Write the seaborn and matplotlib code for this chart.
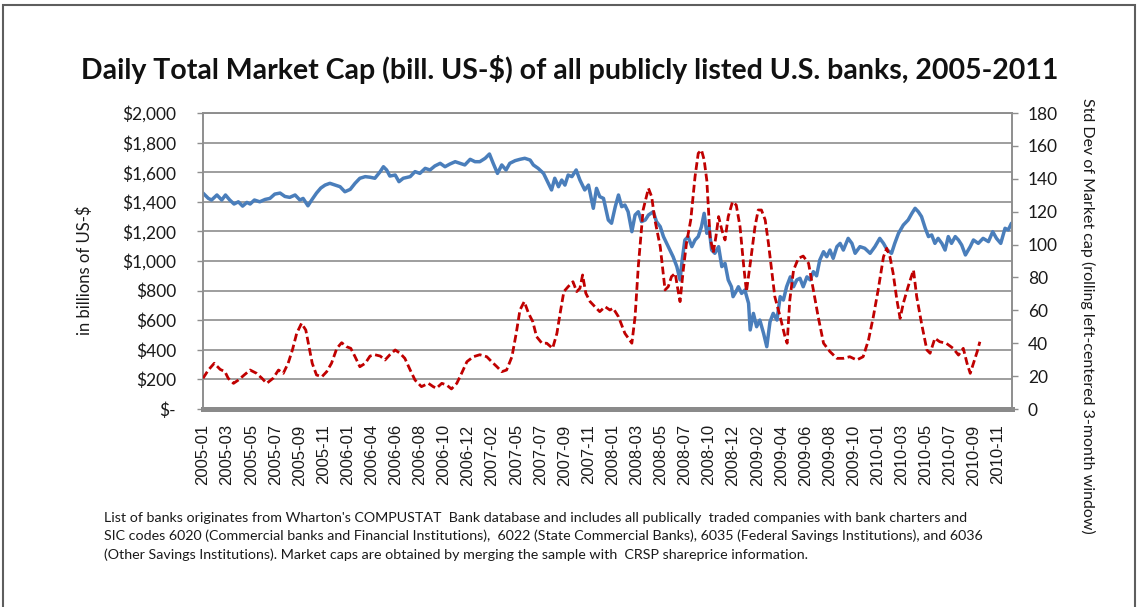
import matplotlib
matplotlib.use("Agg")
import matplotlib.pyplot as plt
from matplotlib.patches import Rectangle
import seaborn as sns

# Trading-day index (0 = first trading day of 2005) and total market cap in bill. US-$
cap_day = [
    0, 10, 16, 26, 35, 42, 50, 58, 66, 74,
    82, 88, 96, 106, 116, 125, 134, 144, 153, 162,
    172, 181, 187, 196, 203, 212, 220, 228, 237, 247,
    256, 265, 275, 284, 293, 303, 312, 321, 331, 337,
    343, 349, 359, 366, 374, 387, 396, 405, 415, 424,
    433, 443, 452, 461, 471, 480, 489, 499, 508, 517,
    527, 535, 542, 550, 558, 566, 573, 583, 592, 601,
    611, 617, 626, 636, 642, 651, 657, 664, 670, 676,
    682, 689, 697, 704, 713, 720, 729, 735, 741, 748,
    757, 763, 770, 776, 782, 788, 794, 801, 807, 813,
    819, 826, 832, 841, 847, 854, 860, 869, 878, 885,
    891, 895, 900, 906, 913, 919, 925, 931, 936, 941,
    945, 950, 956, 963, 969, 975, 981, 987, 990, 995,
    1000, 1006, 1012, 1019, 1022, 1028, 1034, 1040, 1047, 1053,
    1059, 1065, 1072, 1078, 1084, 1090, 1097, 1103, 1109, 1115,
    1121, 1128, 1134, 1140, 1146, 1152, 1159, 1165, 1171, 1177,
    1184, 1190, 1196, 1205, 1212, 1218, 1227, 1236, 1246, 1255,
    1264, 1271, 1278, 1286, 1292, 1299, 1308, 1317, 1324, 1330,
    1336, 1342, 1349, 1355, 1361, 1367, 1373, 1380, 1386, 1392,
    1398, 1405, 1411, 1417, 1424, 1433, 1439, 1448, 1457, 1467,
    1475, 1482, 1490, 1498, 1504, 1510,
]
cap_bn = [
    1459, 1423, 1412, 1446, 1412, 1446, 1412, 1385, 1400, 1371,
    1396, 1385, 1412, 1400, 1416, 1423, 1452, 1459, 1436, 1430,
    1446, 1412, 1423, 1373, 1412, 1459, 1493, 1513, 1525, 1513,
    1502, 1468, 1484, 1525, 1559, 1570, 1566, 1559, 1604, 1637,
    1615, 1574, 1581, 1536, 1559, 1570, 1604, 1592, 1626, 1615,
    1642, 1660, 1637, 1655, 1671, 1660, 1649, 1687, 1671, 1671,
    1694, 1723, 1660, 1592, 1649, 1615, 1660, 1678, 1687, 1694,
    1682, 1649, 1626, 1592, 1547, 1480, 1559, 1502, 1547, 1513,
    1581, 1570, 1615, 1547, 1480, 1513, 1356, 1491, 1435, 1423,
    1277, 1255, 1367, 1446, 1367, 1378, 1333, 1198, 1311, 1333,
    1266, 1277, 1311, 1333, 1266, 1232, 1165, 1097, 1029, 962,
    872, 1007, 1142, 1165, 1097, 1142, 1165, 1232, 1322, 1187,
    1232, 1074, 1052, 1097, 962, 984, 872, 826, 759, 790,
    826, 781, 804, 714, 534, 646, 556, 601, 511, 421,
    589, 646, 601, 759, 736, 826, 893, 826, 872, 883,
    826, 893, 872, 928, 900, 1007, 1063, 1029, 1074, 1018,
    1097, 1119, 1074, 1153, 1119, 1052, 1097, 1086, 1052, 1097,
    1153, 1119, 1074, 1052, 1119, 1187, 1243, 1277, 1322, 1356,
    1333, 1300, 1221, 1165, 1176, 1119, 1153, 1119, 1074, 1165,
    1119, 1165, 1142, 1108, 1041, 1097, 1142, 1119, 1153, 1131,
    1198, 1153, 1119, 1221, 1210, 1255,
]

# Std dev of market cap, rolling left-centered 3-month window
sd_day = [
    0, 10, 21, 32, 41, 47, 57, 66, 77, 88,
    100, 110, 119, 131, 141, 150, 159, 167, 175, 184,
    192, 198, 204, 212, 222, 231, 240, 250, 259, 268,
    276, 284, 293, 303, 312, 321, 331, 340, 349, 359,
    368, 377, 387, 396, 408, 421, 430, 436, 446, 455,
    464, 474, 483, 493, 505, 517, 530, 539, 549, 558,
    567, 577, 585, 592, 600, 608, 616, 623, 633, 642,
    653, 661, 667, 674, 682, 691, 698, 704, 709, 715,
    723, 732, 741, 751, 760, 766, 776, 788, 801, 807,
    813, 822, 832, 838, 844, 854, 863, 869, 875, 882,
    886, 891, 897, 903, 911, 919, 925, 931, 936, 941,
    947, 953, 958, 963, 969, 975, 981, 989, 996, 1003,
    1010, 1015, 1023, 1031, 1037, 1043, 1050, 1056, 1062, 1068,
    1078, 1087, 1091, 1096, 1103, 1112, 1121, 1131, 1140, 1149,
    1159, 1171, 1184, 1196, 1208, 1221, 1233, 1243, 1252, 1261,
    1271, 1277, 1283, 1289, 1296, 1302, 1308, 1317, 1327, 1333,
    1342, 1352, 1358, 1367, 1376, 1388, 1401, 1411, 1420, 1427,
    1433, 1439, 1446, 1451,
]
sd_val = [
    18.7, 23.7, 27.8, 24.1, 22.7, 18.7, 15.6, 17.6, 20.7, 23.7,
    21.7, 18.7, 15.6, 18.7, 23.7, 21.7, 27.8, 35.9, 46.0, 52.1,
    48.0, 37.9, 27.8, 20.7, 19.6, 22.7, 27.8, 36.9, 40.3, 37.9,
    36.9, 31.8, 25.7, 27.8, 32.2, 33.0, 32.2, 29.8, 33.0, 35.9,
    33.9, 30.8, 23.7, 17.6, 13.6, 15.6, 13.6, 12.6, 15.6, 14.6,
    12.2, 15.6, 21.7, 28.8, 31.8, 33.0, 31.8, 28.8, 25.7, 22.7,
    23.7, 31.8, 46.0, 60.2, 65.3, 58.2, 53.1, 44.0, 40.0, 40.0,
    36.9, 46.0, 58.2, 71.4, 74.4, 77.4, 71.4, 73.4, 81.5, 70.4,
    65.3, 62.2, 59.2, 62.2, 60.2, 61.3, 56.1, 46.0, 40.0, 56.1,
    86.6, 121.0, 134.2, 129.1, 115.0, 98.7, 72.4, 74.4, 80.5, 82.5,
    74.4, 65.3, 84.5, 100.8, 115.0, 141.3, 155.5, 157.5, 151.5, 139.0,
    104.8, 95.0, 104.8, 117.0, 108.9, 102.8, 117.0, 126.0, 124.0, 110.9,
    86.6, 71.4, 90.6, 110.9, 121.0, 121.0, 115.0, 101.0, 84.5, 68.3,
    56.1, 44.0, 40.0, 66.3, 84.5, 91.6, 93.0, 88.6, 72.4, 56.1,
    40.0, 34.9, 30.8, 30.8, 31.8, 29.8, 31.8, 42.0, 56.1, 72.4,
    92.6, 97.7, 92.6, 82.5, 66.3, 55.1, 64.3, 74.4, 84.5, 68.3,
    52.1, 35.9, 33.9, 43.0, 40.9, 40.0, 36.9, 32.8, 36.9, 27.8,
    21.7, 27.8, 34.9, 40.9,
]

month_labels = [
    "2005-01", "2005-03", "2005-05", "2005-07", "2005-09", "2005-11",
    "2006-01", "2006-04", "2006-06", "2006-08", "2006-10", "2006-12",
    "2007-02", "2007-05", "2007-07", "2007-09", "2007-11",
    "2008-01", "2008-03", "2008-05", "2008-07", "2008-10", "2008-12",
    "2009-02", "2009-04", "2009-06", "2009-08", "2009-10",
    "2010-01", "2010-03", "2010-05", "2010-07", "2010-09", "2010-11",
]
cap_ticks = [0, 200, 400, 600, 800, 1000, 1200, 1400, 1600, 1800, 2000]
cap_tick_labels = ["$-", "$200", "$400", "$600", "$800", "$1,000", "$1,200",
                   "$1,400", "$1,600", "$1,800", "$2,000"]
sd_ticks = [0, 20, 40, 60, 80, 100, 120, 140, 160, 180]

title = "Daily Total Market Cap (bill. US-$) of all publicly listed U.S. banks, 2005-2011"
left_label = "in billions of US-$"
right_label = "Std Dev of Market cap (rolling left-centered 3-month window)"
note = ("List of banks originates from Wharton's COMPUSTAT  Bank database and includes all publically  traded companies with bank charters and\n"
        "SIC codes 6020 (Commercial banks and Financial Institutions),  6022 (State Commercial Banks), 6035 (Federal Savings Institutions), and 6036\n"
        "(Other Savings Institutions). Market caps are obtained by merging the sample with  CRSP shareprice information.")

LABEL_STEP = 45      # trading days between category labels
N_DAYS = 1511

sns.set_theme(style="white")
plt.rcParams["font.family"] = ["Lato", "DejaVu Sans"]

W, H = 1140, 607
fig = plt.figure(figsize=(W / 100, H / 100), dpi=100)
fig.patch.set_facecolor("white")

x0, x1, y0, y1 = 203, 1012, 113, 409
ax = fig.add_axes([x0 / W, 1 - y1 / H, (x1 - x0) / W, (y1 - y0) / H])
ax.set_facecolor("white")

grid_c = "#8E8E8E"
sns.lineplot(x=cap_day, y=cap_bn, ax=ax, color="#4A7EBB", linewidth=2.5, zorder=3)
ax.set_xlim(0, N_DAYS)
ax.set_ylim(0, 2000)
ax.set_yticks(cap_ticks)
ax.set_yticklabels(cap_tick_labels, fontsize=12.5, color="#1a1a1a")
ax.yaxis.grid(True, color=grid_c, linewidth=1.2)
ax.set_axisbelow(True)
ax.set_xticks([k * LABEL_STEP for k in range(len(month_labels))])
ax.set_xticklabels(month_labels, rotation=90, fontsize=12,
                   family=["Liberation Sans"], color="#1a1a1a")
ax.tick_params(axis="x", length=0, pad=11)
ax.tick_params(axis="y", length=4.5, width=1.0, color=grid_c, pad=15, left=True)
ax.set_xlabel("")
ax.set_ylabel("")
for side in ["left", "right", "top"]:
    ax.spines[side].set_color(grid_c)
    ax.spines[side].set_linewidth(1.2)
ax.spines["bottom"].set_color("#8A8A8A")
ax.spines["bottom"].set_linewidth(3.6)

ax2 = ax.twinx()
sns.lineplot(x=sd_day, y=sd_val, ax=ax2, color="#C00000", linewidth=2.0,
             linestyle=(0, (2.8, 1.3)), zorder=4)
ax2.set_ylim(0, 180)
ax2.set_yticks(sd_ticks)
ax2.set_yticklabels([str(t) for t in sd_ticks], fontsize=12.5, color="#1a1a1a")
ax2.tick_params(axis="y", length=4.5, width=1.0, color=grid_c, pad=7, right=True)
ax2.set_ylabel("")
for side in ["left", "right", "top"]:
    ax2.spines[side].set_color(grid_c)
    ax2.spines[side].set_linewidth(1.2)
ax2.spines["bottom"].set_visible(False)

fig.text(569.5 / W, 1 - 70 / H, title, ha="center", va="center",
         fontsize=20.5, fontweight="bold", color="#111111")
fig.text(85 / W, 1 - 270 / H, left_label, rotation=90, ha="center", va="center",
         fontsize=12, color="#1a1a1a")
fig.text(1088 / W, 1 - 316 / H, right_label, rotation=270, ha="center", va="center",
         fontsize=11.5, color="#1a1a1a")
fig.text(104 / W, 1 - 512 / H, note, ha="left", va="top", fontsize=10.3,
         linespacing=1.55, color="#1a1a1a")

fig.add_artist(Rectangle((3 / W, -0.1), (1135 - 3) / W, 1.1 - 5 / H,
                         transform=fig.transFigure, fill=False,
                         edgecolor="#5E5E5E", linewidth=1.5))

fig.savefig("out.png", dpi=100, facecolor="white")
